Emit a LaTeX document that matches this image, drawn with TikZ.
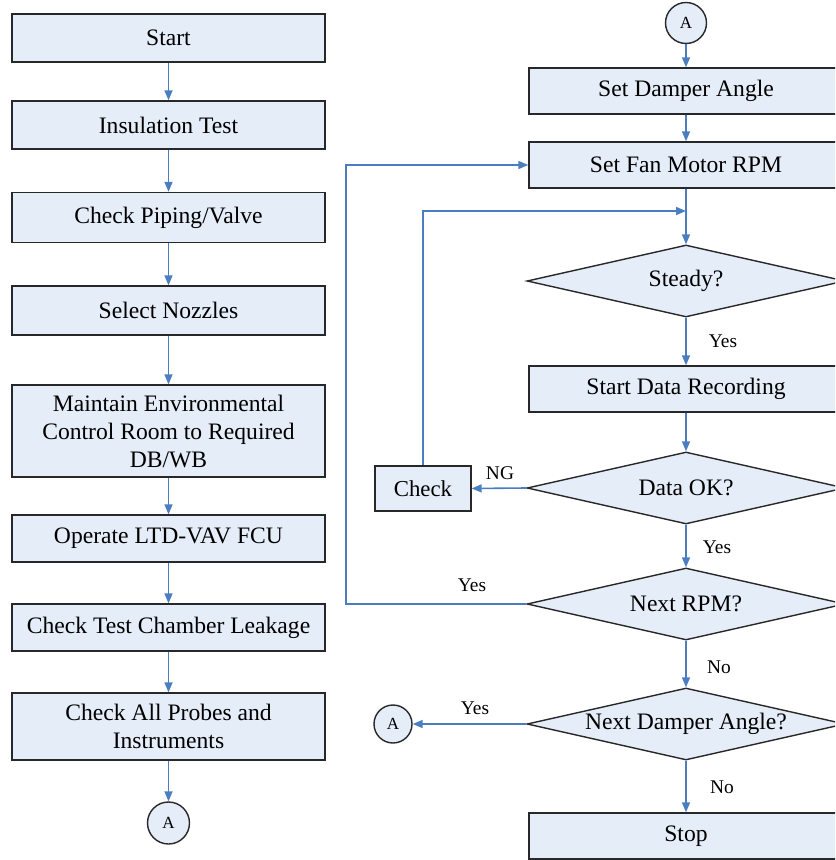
\documentclass[tikz,border=0pt]{standalone}
\usepackage{fontspec}
\setmainfont{Liberation Serif}
\usetikzlibrary{shapes.geometric,arrows.meta}
\definecolor{boxfill}{RGB}{229,237,248}
\definecolor{arrowc}{RGB}{74,126,193}
\definecolor{edgec}{RGB}{40,40,40}
\begin{document}
\begin{tikzpicture}[x=0.5pt,y=-0.5pt,
 box/.style={draw=edgec,fill=boxfill,line width=0.7pt,minimum width=156.5pt,inner sep=0pt,align=center,font=\fontsize{11.8}{14}\selectfont},
 dia/.style={diamond,draw=edgec,fill=boxfill,line width=0.7pt,inner sep=0pt,minimum width=159pt,minimum height=36pt},
 conn/.style={circle,draw=edgec,fill=boxfill,line width=0.7pt,inner sep=0pt,font=\fontsize{8.5}{10}\selectfont},
 arr/.style={draw=arrowc,line width=0.8pt,-{Triangle[length=5pt,width=4pt]}},
 lbl/.style={font=\fontsize{9.7}{11}\selectfont,inner sep=0pt},
 dtext/.style={font=\fontsize{11.8}{14}\selectfont,inner sep=0pt}]
\useasboundingbox (0,0) rectangle (835,860);
\clip (0,0) rectangle (835,860);
% left column
\node[box,minimum height=24pt] (start) at (168.5,38) {Start};
\node[box,minimum height=24pt] (ins) at (168.5,125) {Insulation Test};
\node[box,minimum height=25pt] (pip) at (168.5,217.5) {Check Piping/Valve};
\node[box,minimum height=24.5pt] (noz) at (168.5,310.5) {Select Nozzles};
\node[box,minimum height=46pt] (env) at (168.5,431) {Maintain Environmental\\Control Room to Required\\DB/WB};
\node[box,minimum height=23.5pt] (op) at (168.5,538.5) {Operate LTD-VAV FCU};
\node[box,minimum height=23.5pt] (leak) at (168.5,627.5) {Check Test Chamber Leakage};
\node[box,minimum height=33.5pt] (prob) at (168.5,726.5) {Check All Probes and\\Instruments};
\node[conn,minimum size=21pt] (a1) at (168.5,823) {A};
\draw[arr] (start) -- (ins);
\draw[arr] (ins) -- (pip);
\draw[arr] (pip) -- (noz);
\draw[arr] (noz) -- (env);
\draw[arr] (env) -- (op);
\draw[arr] (op) -- (leak);
\draw[arr] (leak) -- (prob);
\draw[arr] (prob) -- (a1);
% right column
\node[conn,minimum size=20.5pt] (a2) at (686,23) {A};
\node[box,minimum width=157pt,minimum height=23pt] (damp) at (686,91) {Set Damper Angle};
\node[box,minimum width=157pt,minimum height=23pt] (fan) at (686,165) {Set Fan Motor RPM};
\node[dia] (steady) at (686,281) {};
\node[dtext] at (steady) {Steady?};
\node[box,minimum width=157pt,minimum height=23pt] (rec) at (686,389) {Start Data Recording};
\node[dia] (ok) at (686,488) {};
\node[dtext] at (ok) {Data OK?};
\node[box,minimum width=48pt,minimum height=22.5pt,font=\fontsize{11.4}{13}\selectfont] (chk) at (423,488.5) {Check};
\node[dia] (nrpm) at (686,604) {};
\node[dtext] at (nrpm) {Next RPM?};
\node[dia] (ndamp) at (686,724) {};
\node[dtext] at (ndamp) {Next Damper Angle?};
\node[conn,minimum size=19pt] (a3) at (393,724) {A};
\node[box,minimum width=157pt,minimum height=23pt] (stop) at (686,836) {Stop};
\coordinate (m) at (686,211);
\coordinate (lp) at (346,604);
\draw[arr] (a2) -- (damp);
\draw[arr] (damp) -- (fan);
\draw[arr] (fan) -- (steady);
\draw[arr] (chk.north) |- (m);
\draw[arr] (steady) -- (rec);
\draw[arr] (rec) -- (ok);
\draw[arr] (ok.west) -- (chk.east);
\draw[arr] (ok) -- (nrpm);
\draw[arr] (nrpm.west) -- (lp) |- (fan.west);
\draw[arr] (nrpm) -- (ndamp);
\draw[arr] (ndamp.west) -- (a3.east);
\draw[arr] (ndamp) -- (stop);
% labels
\node[lbl] (l1) at (723,341) {Yes};
\node[lbl] (l2) at (500,473) {NG};
\node[lbl] (l3) at (717,547) {Yes};
\node[lbl] (l4) at (472,585) {Yes};
\node[lbl] (l5) at (719,667) {No};
\node[lbl] (l6) at (475,708) {Yes};
\node[lbl] (l7) at (722,787) {No};
\end{tikzpicture}
\end{document}
